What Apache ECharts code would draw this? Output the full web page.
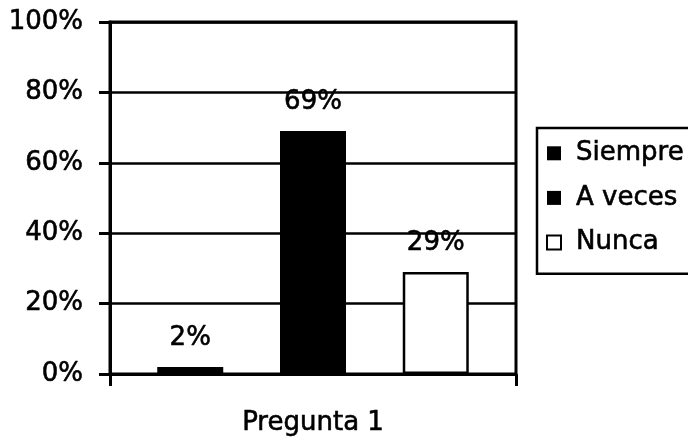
<!DOCTYPE html>
<html>
<head>
<meta charset="utf-8">
<script src="https://cdn.jsdelivr.net/npm/echarts@6/dist/echarts.min.js"></script>
<style>
  html, body { margin: 0; padding: 0; background: #fff; }
  #chart { width: 688px; height: 440px; }
</style>
</head>
<body>
<div id="chart"></div>
<script>
// Survey answers for question 1, as percentages
const categories = ['Pregunta 1'];
const seriesNames = ['Siempre', 'A veces', 'Nunca'];
const siempre = [2];
const aVeces = [69];
const nunca = [29];
const yTicks = [0, 20, 40, 60, 80, 100];

const FONT = 'DejaVu Sans';
const TEXT = {
  fontFamily: FONT,
  fontSize: 26,
  color: '#000',
  textBorderColor: '#000',
  textBorderWidth: 0.6
};
const chart = echarts.init(document.getElementById('chart'), null, { renderer: 'canvas' });

function barSeries(name, data, fill) {
  return {
    name: name,
    type: 'bar',
    data: data,
    barWidth: 66,
    barGap: '86%',
    itemStyle: { color: fill, borderColor: '#000', borderWidth: fill === '#fff' ? 2.5 : 0 },
    label: Object.assign({ show: true, position: 'top', distance: 16, formatter: '{c}%' }, TEXT),
    emphasis: { disabled: true }
  };
}

chart.setOption({
  animation: false,
  backgroundColor: '#fff',
  grid: {
    left: 110, right: 172, top: 22, bottom: 66,
    show: true, borderColor: '#000', borderWidth: 3
  },
  legend: {
    orient: 'vertical',
    left: 537,
    top: 128,
    data: seriesNames,
    icon: 'rect',
    itemWidth: 14,
    itemHeight: 14,
    itemGap: 18,
    padding: [12, 20, 18, 9],
    borderColor: '#000',
    borderWidth: 2.5,
    textStyle: Object.assign({ padding: [0, 0, 0, 10] }, TEXT)
  },
  xAxis: {
    type: 'category',
    data: categories,
    axisLine: { lineStyle: { color: '#000', width: 3 } },
    axisTick: { show: true, length: 12, lineStyle: { color: '#000', width: 3 } },
    axisLabel: Object.assign({ margin: 36 }, TEXT)
  },
  yAxis: {
    type: 'value',
    min: yTicks[0],
    max: yTicks[yTicks.length - 1],
    interval: yTicks[1] - yTicks[0],
    axisLine: { show: true, lineStyle: { color: '#000', width: 3 } },
    axisTick: { show: true, length: 11, lineStyle: { color: '#000', width: 3 } },
    splitLine: { lineStyle: { color: '#000', width: 2.5 } },
    axisLabel: Object.assign({ margin: 27, formatter: '{value}%' }, TEXT)
  },
  series: [
    barSeries(seriesNames[0], siempre, '#000'),
    barSeries(seriesNames[1], aVeces, '#000'),
    barSeries(seriesNames[2], nunca, '#fff')
  ]
});
</script>
</body>
</html>
